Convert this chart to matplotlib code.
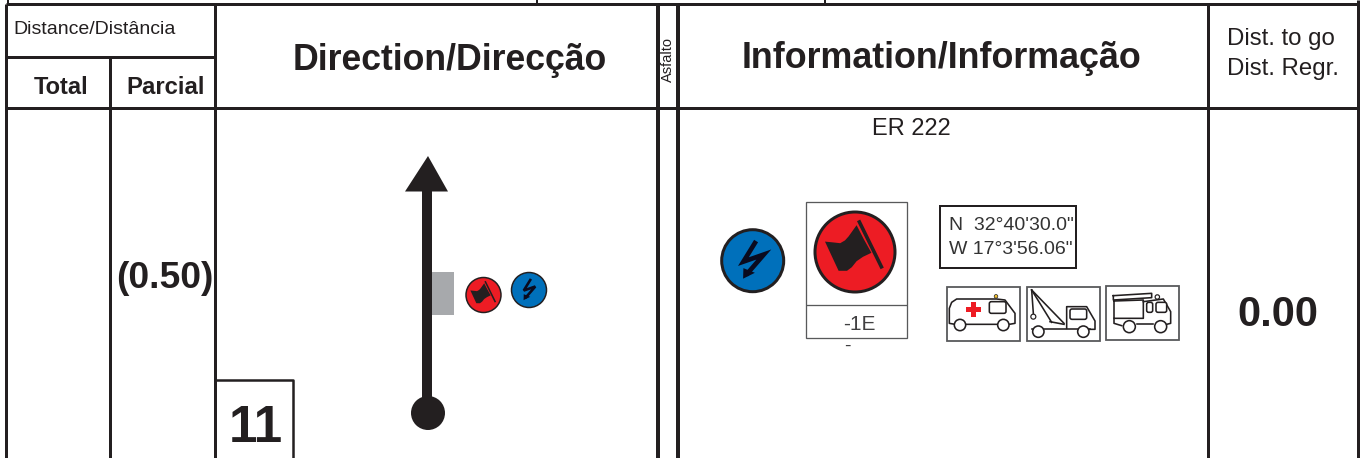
import matplotlib
matplotlib.use('Agg')
import matplotlib.pyplot as plt
from matplotlib.patches import Circle, Polygon, Rectangle, FancyBboxPatch

plt.rcParams['font.family'] = ['Liberation Sans', 'DejaVu Sans']

# text of the roadbook row
header_dist = 'Distance/Distância'
header_total = 'Total'
header_partial = 'Parcial'
header_dir = 'Direction/Direcção'
header_surface = 'Asfalto'
header_info = 'Information/Informação'
header_togo = ['Dist. to go', 'Dist. Regr.']
partial_value = '(0.50)'
togo_value = '0.00'
step_number = '11'
road_name = 'ER 222'
gps_lines = ['N  32°40\'30.0"', 'W 17°3\'56.06"']
flag_code = '-1E'
flag_sub = '-'

INK = '#231f20'
BOX = '#58595b'
RED = '#ed1c24'
BLUE = '#0070bb'
GREY = '#a7a9ac'

fig = plt.figure(figsize=(13.62, 4.58), dpi=100)
ax = fig.add_axes([0, 0, 1, 1])
ax.set_xlim(0, 1362)
ax.set_ylim(458, 0)
ax.axis('off')

def px(w):
    # line widths are read in pixels from the picture
    return w * 72 / 100

def line(xs, ys, w=3, c=INK, z=2):
    ax.plot(xs, ys, color=c, lw=px(w), solid_capstyle='butt', solid_joinstyle='round', zorder=z)

def label(x, y, s, size, bold=False, ha='center', rot=0, c=INK):
    ax.text(x, y, s, fontsize=size, fontweight='bold' if bold else 'normal',
            ha=ha, va='center', rotation=rot, color=c, zorder=5)

def flag_sign(cx, cy, r, edge):
    ax.add_patch(Circle((cx, cy), r, fc=RED, ec=INK, lw=px(edge), zorder=3))
    flag = [(-0.75, -0.26), (-0.55, -0.24), (-0.37, -0.22), (-0.25, -0.29), (-0.16, -0.39), (0.04, -0.67),
            (0.22, -0.32), (0.41, 0.02), (0.2, 0.12), (0.04, 0.23), (-0.08, 0.38), (-0.2, 0.47), (-0.41, 0.47)]
    ax.add_patch(Polygon([(cx + a * r, cy + b * r) for a, b in flag], fc=INK, ec='none', zorder=4))
    ax.plot([cx + 0.11 * r, cx + 0.66 * r], [cy - 0.75 * r, cy + 0.37 * r], color=INK,
            lw=px(r * 0.09), zorder=4)

def bolt_sign(cx, cy, r, edge):
    ax.add_patch(Circle((cx, cy), r, fc=BLUE, ec=INK, lw=px(edge), zorder=3))
    zig = [(0.07, -0.57), (-0.3, 0.03), (0.36, -0.2), (-0.16, 0.4)]
    ax.plot([cx + a * r for a, b in zig], [cy + b * r for a, b in zig], color='#0a0a1e',
            lw=px(r * 0.15), solid_joinstyle='miter', zorder=4)
    head = [(-0.31, 0.58), (-0.3, 0.24), (0.07, 0.39)]
    ax.add_patch(Polygon([(cx + a * r, cy + b * r) for a, b in head], fc='#0a0a1e', ec='none', zorder=4))

def veh(pts):
    # vehicle outlines are measured on a 3x crop starting at (930, 195)
    return [930 + p[0] / 3 for p in pts], [195 + p[1] / 3 for p in pts]

def veh_line(pts, w=1.6, c=INK):
    xs, ys = veh(pts)
    ax.plot(xs, ys, color=c, lw=px(w), solid_joinstyle='round', zorder=4)

def wheel(x, y, r=17):
    ax.add_patch(Circle((930 + x / 3, 195 + y / 3), r / 3, fc='white', ec=INK, lw=px(1.6), zorder=5))

def win(x0, y0, x1, y1):
    ax.add_patch(FancyBboxPatch((930 + x0 / 3, 195 + y0 / 3), (x1 - x0) / 3, (y1 - y0) / 3,
                                boxstyle='round,pad=0,rounding_size=2', fc='white', ec=INK, lw=px(1.6), zorder=4))

# table rules
line([6, 1358], [4, 4])
line([6, 1358], [108, 108])
line([6, 215], [56.5, 56.5])
line([6, 6], [4, 458])
line([110, 110], [56, 458])
line([215, 215], [4, 458])
line([658, 658], [4, 458], w=4)
line([678, 678], [4, 458], w=4)
line([1208, 1208], [4, 458])
line([1358, 1358], [0, 458])
for x in [8, 537, 825]:
    line([x, x], [0, 4], w=2)

# headers
label(95, 30, header_dist, 14)
label(61, 87, header_total, 17, bold=True)
label(166, 88, header_partial, 17.2, bold=True)
label(450, 61, header_dir, 25.7, bold=True)
label(668, 60, header_surface, 10.5, rot=90)
label(941, 59, header_info, 25.8, bold=True)
label(1281, 39, header_togo[0], 17.3)
label(1283, 69, header_togo[1], 17.3)

# body values
label(165, 278, partial_value, 26.8, bold=True)
label(1278, 315, togo_value, 30, bold=True)
label(911, 129, road_name, 17)

# step number box
line([216, 293, 293], [380, 380, 458], w=2.5)
label(256, 428, step_number, 37, bold=True)

# direction arrow
ax.add_patch(Rectangle((431, 272), 23, 43, fc=GREY, ec='none', zorder=1))
line([426.5, 426.5], [185, 414], w=10, z=3)
ax.add_patch(Polygon([(428, 156), (405, 191.5), (448, 191.5)], fc=INK, ec='none', zorder=3))
ax.add_patch(Circle((428, 413), 17, fc=INK, ec='none', zorder=3))
flag_sign(483.5, 295, 17.5, 1.5)
bolt_sign(529, 290, 17.5, 1.5)

# information column
bolt_sign(752.7, 260.7, 31, 3)
ax.add_patch(Rectangle((806, 202), 101, 136, fc='white', ec=BOX, lw=px(1.3), zorder=2))
line([806, 907], [305, 305], w=1.3, c=BOX)
flag_sign(855, 252, 40, 3)
label(859, 324, flag_code, 15, c='#414042')
label(847, 346, flag_sub, 14, c='#414042')

# gps box
ax.add_patch(Rectangle((940, 206), 136, 62, fc='white', ec=INK, lw=px(2), zorder=2))
label(949, 226, gps_lines[0], 14, ha='left', c='#333333')
label(949, 250, gps_lines[1], 14, ha='left', c='#333333')

# service vehicles
for x0, y0 in [(947, 287), (1027, 287), (1106, 286)]:
    ax.add_patch(Rectangle((x0, y0), 73, 54, fc='white', ec=BOX, lw=px(1.8), zorder=2))

# ambulance
veh_line([(75, 388), (58, 385), (58, 340), (65, 322), (80, 312), (200, 312), (225, 315), (255, 355),
          (255, 385), (238, 388), (105, 388)])
win(178, 320, 228, 355)
wheel(90, 390)
wheel(220, 390)
ax.add_patch(Rectangle((930 + 108 / 3, 195 + 336 / 3), 45 / 3, 14 / 3, fc=RED, ec='none', zorder=4))
ax.add_patch(Rectangle((930 + 123 / 3, 195 + 322 / 3), 15 / 3, 44 / 3, fc=RED, ec='none', zorder=4))
ax.add_patch(Circle((930 + 198 / 3, 195 + 304 / 3), 1.8, fc='#f2c230', ec=INK, lw=0.5, zorder=4))

# tow truck
veh_line([(305, 403), (480, 403)])
veh_line([(410, 400), (410, 335), (470, 335), (495, 378), (495, 403), (478, 403)])
win(420, 342, 470, 373)
veh_line([(305, 285), (402, 385)])
veh_line([(305, 285), (365, 382)])
veh_line([(305, 285), (310, 355)])
veh_line([(360, 380), (402, 388)])
ax.add_patch(Circle((930 + 310 / 3, 195 + 365 / 3), 2.5, fc='white', ec=INK, lw=px(1.2), zorder=4))
wheel(325, 410)
wheel(460, 410)

# fire truck
veh_line([(552, 318), (640, 315), (640, 370), (552, 370), (552, 318)])
veh_line([(550, 302), (665, 295), (665, 308), (550, 315), (550, 302)])
veh_line([(640, 320), (700, 312), (722, 350), (722, 385), (710, 388)])
veh_line([(552, 370), (552, 385), (575, 392)])
veh_line([(620, 388), (670, 388)])
win(650, 322, 668, 352)
win(678, 322, 710, 352)
wheel(598, 395, 18)
wheel(692, 395, 18)
ax.add_patch(Circle((930 + 682 / 3, 195 + 306 / 3), 2.2, fc='white', ec=INK, lw=px(1.2), zorder=3))

fig.savefig('out.png', dpi=100, facecolor='white')
